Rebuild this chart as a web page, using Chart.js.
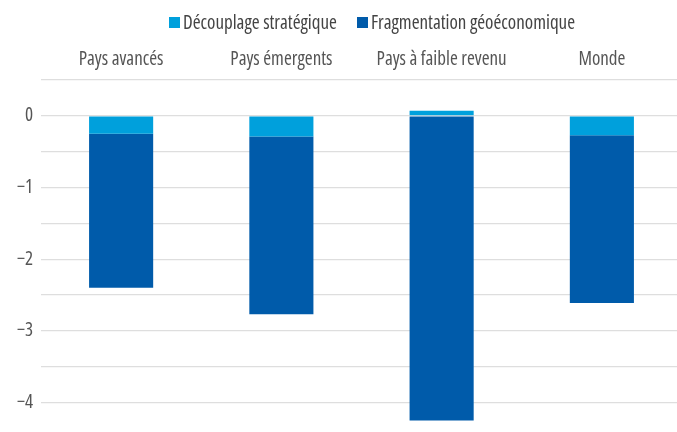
<!DOCTYPE html>
<html>
<head>
<meta charset="utf-8">
<script src="https://cdn.jsdelivr.net/npm/chart.js@4"></script>
<style>
  html, body { margin: 0; padding: 0; background: #fff; overflow: hidden; }
  #wrap { position: relative; width: 677px; height: 432px; overflow: hidden; }
  #chart { position: absolute; left: 0; top: 0; }
  #legend { position: absolute; left: 169px; top: 9px; display: flex; align-items: center;
            font-family: "Open Sans", sans-serif; font-stretch: 75%; font-size: 19px; color: #444; white-space: nowrap; }
  #legend .item { display: flex; align-items: center; margin-right: 20px; }
  #legend .box { width: 11px; height: 11px; margin-right: 3px; }
</style>
</head>
<body>
<div id="wrap">
  <canvas id="chart" width="685" height="447"></canvas>
  <div id="legend"></div>
</div>
<script>
const categories = ['Pays avancés', 'Pays émergents', 'Pays à faible revenu', 'Monde'];
const seriesNames = ['Découplage stratégique', 'Fragmentation géoéconomique'];
const decouplage = [-0.25, -0.29, 0.07, -0.27];
const fragmentation = [-2.15, -2.48, -4.25, -2.34];
const colors = ['#00a0dc', '#005baa'];

// condensed Open Sans, close to the original narrow face
const labelFont = { family: '"Open Sans"', weight: 'condensed', size: 19 };

// html legend, placed like the original
const legendEl = document.getElementById('legend');
seriesNames.forEach((name, i) => {
    const item = document.createElement('div');
    item.className = 'item';
    const box = document.createElement('span');
    box.className = 'box';
    box.style.background = colors[i];
    const label = document.createElement('span');
    label.textContent = name;
    item.appendChild(box);
    item.appendChild(label);
    legendEl.appendChild(item);
});

const fmt = v => v < 0 ? '\u2212' + Math.abs(v) : String(v);

new Chart(document.getElementById('chart'), {
    type: 'bar',
    data: {
        labels: categories,
        datasets: [
            { label: seriesNames[0], data: decouplage, backgroundColor: colors[0], borderWidth: 0 },
            { label: seriesNames[1], data: fragmentation, backgroundColor: colors[1], borderWidth: 0 }
        ]
    },
    options: {
        responsive: false,
        animation: false,
        devicePixelRatio: 1,
        layout: { padding: { top: 0, right: 3, bottom: 0, left: 0 } },
        datasets: { bar: { categoryPercentage: 1, barPercentage: 0.4 } },
        plugins: {
            legend: { display: false },
            tooltip: { enabled: false }
        },
        scales: {
            x: {
                position: 'top',
                stacked: true,
                grid: { display: false, drawTicks: false },
                border: { display: false },
                ticks: {
                    padding: 9,
                    color: '#555',
                    font: labelFont,
                    autoSkip: false,
                    maxRotation: 0
                },
                afterFit: scale => { scale.height = 80; }
            },
            y: {
                stacked: true,
                min: -4.35,
                max: 0.5,
                grid: { color: '#dedede', lineWidth: 1.3, drawTicks: false },
                border: { display: false },
                ticks: {
                    stepSize: 0.5,
                    padding: 8,
                    color: '#555',
                    font: labelFont,
                    callback: v => Number.isInteger(v) ? fmt(v) : ''
                },
                afterBuildTicks: scale => {
                    scale.ticks = scale.ticks.filter(t => Math.abs(t.value * 2 - Math.round(t.value * 2)) < 1e-9);
                },
                afterFit: scale => { scale.width = 41; }
            }
        }
    }
});
</script>
</body>
</html>
